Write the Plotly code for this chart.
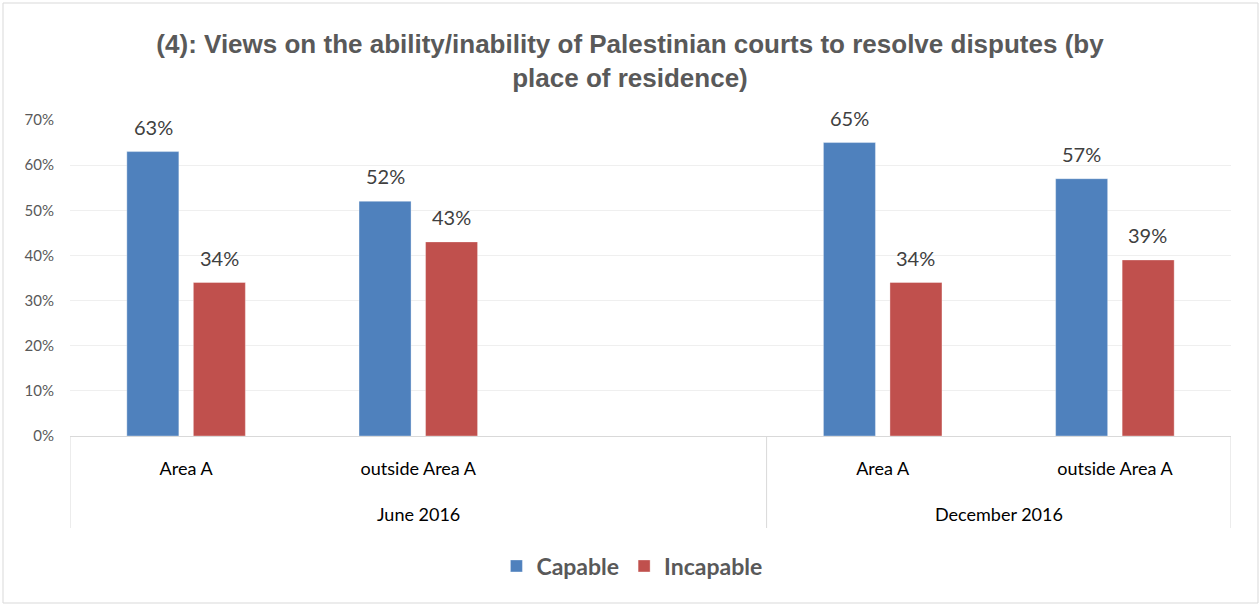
import plotly.graph_objects as go

# ---- data ----
groups = ["June 2016", "June 2016", "June 2016", "December 2016", "December 2016"]
places = ["Area A", "outside Area A", "", "Area A", "outside Area A"]
capable = [63, 52, None, 65, 57]
incapable = [34, 43, None, 34, 39]
series_names = ["Capable", "Incapable"]
colors = ["#4F81BD", "#C0504D"]
title_text = "(4): Views on the ability/inability of Palestinian courts to resolve disputes (by<br>place of residence)"

W, H = 1260, 606
L, R, T, B = 70, 29, 120, 170
pw, ph = W - L - R, H - T - B

xs = list(range(len(places)))

fig = go.Figure()
for name, vals, col in zip(series_names, [capable, incapable], colors):
    fig.add_trace(go.Bar(
        x=xs, y=vals, name=name,
        marker=dict(color=col, line=dict(color="rgba(255,255,255,0.35)", width=1)),
    ))

# data labels
annotations = []
for k, vals in enumerate([capable, incapable]):
    shift = -33 if k == 0 else 33
    for i, v in enumerate(vals):
        if v is None:
            continue
        annotations.append(dict(
            x=i, y=v, xref="x", yref="y", text=f"{v}%", showarrow=False,
            xshift=shift, yshift=11, yanchor="bottom",
            font=dict(family="Lato", size=20, color="#404040"),
        ))

# group labels and dividers
def py(pix):  # pixel offset below axis -> paper y
    return -pix / ph

uniq = []
for g in groups:
    if g not in uniq:
        uniq.append(g)
shapes = []
bounds = [-0.5]
for g in uniq:
    idx = [i for i, gg in enumerate(groups) if gg == g]
    center = (min(idx) + max(idx)) / 2
    annotations.append(dict(
        x=center, y=py(78), xref="x", yref="paper", text=g, showarrow=False,
        yanchor="middle", font=dict(family="Lato", size=18, color="#000000"),
    ))
    bounds.append(max(idx) + 0.5)
for b in bounds:
    shapes.append(dict(type="line", xref="x", yref="paper", x0=b, x1=b,
                       y0=0, y1=py(92), line=dict(color="#d9d9d9", width=1)))

# chart border
shapes.append(dict(type="rect", xref="paper", yref="paper",
                   x0=(3 - L) / pw, x1=(1258 - L) / pw,
                   y0=(T + ph - 603) / ph, y1=(T + ph - 3) / ph,
                   line=dict(color="#d9d9d9", width=1)))

fig.update_layout(
    width=W, height=H,
    margin=dict(l=L, r=R, t=T, b=B, autoexpand=False),
    paper_bgcolor="white", plot_bgcolor="white",
    barmode="group", bargap=0.427, bargroupgap=0.218,
    title=dict(text=title_text, x=0.5, xanchor="center", y=1 - 53 / H, yanchor="middle",
               font=dict(family="Liberation Sans", size=26, color="#595959", weight="bold")),
    xaxis=dict(
        range=[-0.5, len(places) - 0.5], tickmode="array", tickvals=xs, ticktext=places,
        showgrid=False, zeroline=False, showline=True, linecolor="#d9d9d9", linewidth=1,
        ticks="", ticklabelstandoff=16,
        tickfont=dict(family="Lato", size=18, color="#000000"),
    ),
    yaxis=dict(
        range=[0, 70], dtick=10, ticksuffix="%", showgrid=True, gridcolor="#efefef",
        gridwidth=1, zeroline=False, showline=False, ticks="", ticklabelstandoff=15,
        tickfont=dict(family="Lato", size=15, color="#595959"),
    ),
    legend=dict(orientation="h", x=0.484, xanchor="center", y=py(130), yanchor="middle",
                font=dict(family="Lato", size=23, color="#595959", weight="bold"),
                itemwidth=30, traceorder="normal"),
    annotations=annotations, shapes=shapes,
)

fig.write_html("out.html", config={"displayModeBar": False},
               post_script="document.body.style.margin='0';")
